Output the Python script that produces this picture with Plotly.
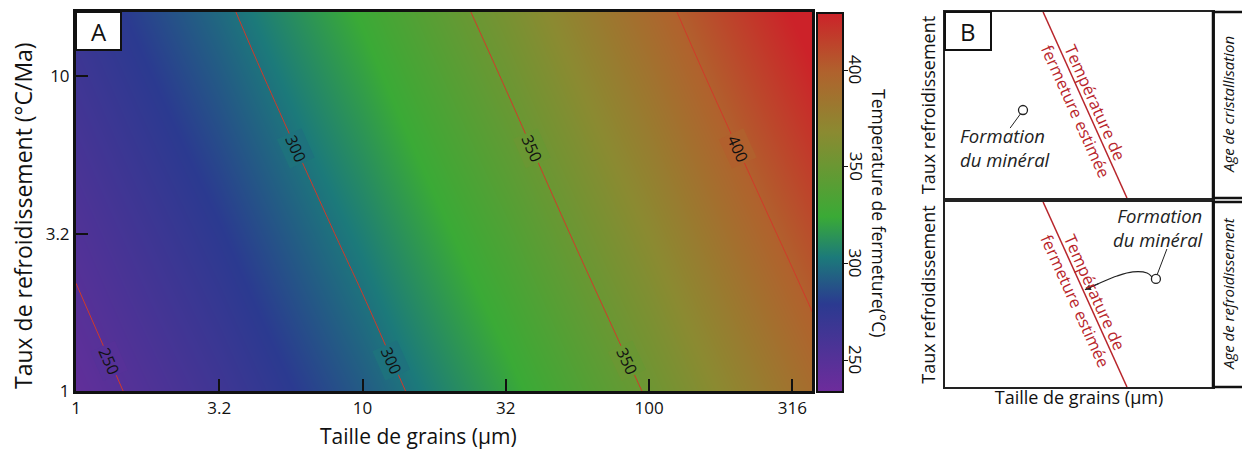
import numpy as np
import plotly.graph_objects as go
from plotly.colors import sample_colorscale

# ---------------- Panel A data ----------------
grain_um = [1, 3.16, 10, 31.6, 100, 316, 400]          # grain size (µm)
rate_c_ma = [1, 3.16, 10, 16]                           # cooling rate (°C/Ma)
temp_c = [                                              # closure temperature (°C)
    [242.4, 265.5, 291.4, 320.1, 351.6, 385.9, 393.2],
    [253.5, 278.0, 305.3, 335.3, 368.2, 403.9, 411.5],
    [265.3, 291.1, 319.8, 351.3, 385.5, 422.6, 430.5],
    [270.2, 296.6, 325.8, 357.8, 392.7, 430.3, 438.3],
]
contour_start, contour_end, contour_step = 250, 400, 50
label_levels = [250, 300, 300, 350, 350, 400]           # contour labels shown
label_rates = [1.25, 5.9, 1.25, 5.9, 1.25, 5.9]         # cooling rate where each label sits
x_tick_vals = [1, 3.16, 10, 31.6, 100, 316]
x_tick_text = ["1", "3.2", "10", "32", "100", "316"]
y_tick_vals = [1, 3.16, 10]
y_tick_text = ["1", "3.2", "10"]
cbar_ticks = [250, 300, 350, 400]
x_max_um = 370
y_max_rate = 16
t_min, t_max = 233.5, 429.5

# ---------------- Panel B schematic data ----------------
closure_x = [0.366, 0.679]
closure_y = [1.0, 0.0]
top_point_x = [0.291]
top_point_y = [0.473]
top_leader_x = [0.284, 0.243]
top_leader_y = [0.457, 0.376]
bot_point_x = [0.787]
bot_point_y = [0.584]
bot_leader_x = [0.791, 0.828]
bot_leader_y = [0.605, 0.746]
bot_path_x = [0.772, 0.754, 0.701, 0.642, 0.578, 0.522]
bot_path_y = [0.595, 0.616, 0.622, 0.600, 0.562, 0.526]

W, H = 1242, 450
def px(v): return v / W
def py(v): return 1 - v / H

FONT = "Open Sans"
RED = "#b8262c"

colorscale = [
    [0.0, "#6e2c9c"],
    [0.232, "#2b3a90"],
    [0.355, "#1c7a7a"],
    [0.462, "#3aaa36"],
    [0.686, "#8b8a31"],
    [0.844, "#b0622d"],
    [1.0, "#cc2229"],
]

lx = np.log10(grain_um)
ly = np.log10(rate_c_ma)
zarr = np.array(temp_c)
A_X0, A_X1, A_Y0, A_Y1 = 76, 812, 12, 391
CB_X0, CB_Y0, CB_Y1, CB_T = 817, 13, 392, 26
x_range = [0, np.log10(x_max_um)]
y_range = [0, np.log10(y_max_rate)]
sx = (A_X1 - A_X0) / (x_range[1] - x_range[0])
sy = (A_Y1 - A_Y0) / (y_range[1] - y_range[0])


def contour_x(level, yv):
    """grain-size (log10) where the temperature field equals level at log10 rate yv"""
    row = np.array([np.interp(yv, ly, zarr[:, j]) for j in range(len(lx))])
    return float(np.interp(level, row, lx))


fig = go.Figure()
fig.add_trace(go.Heatmap(
    x=lx, y=ly, z=temp_c, zsmooth="best", colorscale=colorscale,
    zmin=t_min, zmax=t_max, hoverinfo="skip",
    colorbar=dict(
        x=px(CB_X0), xanchor="left", y=py(CB_Y0), yanchor="top",
        len=(CB_Y1 - CB_Y0) / H, lenmode="fraction", thickness=CB_T,
        xpad=0, ypad=0, outlinewidth=2, outlinecolor="#111",
        tickvals=cbar_ticks, ticks="outside", ticklen=4, tickcolor="#111",
        showticklabels=False,
    ),
    xaxis="x", yaxis="y",
))
fig.add_trace(go.Contour(
    x=lx, y=ly, z=temp_c, showscale=False, hoverinfo="skip",
    contours=dict(start=contour_start, end=contour_end, size=contour_step,
                  coloring="none", showlabels=False),
    line=dict(color="#d03a2a", width=1),
    xaxis="x", yaxis="y",
))

# Panel B traces
for xa, ya in (("x2", "y2"), ("x3", "y3")):
    fig.add_trace(go.Scatter(x=closure_x, y=closure_y, mode="lines",
                             line=dict(color=RED, width=1.5), hoverinfo="skip",
                             xaxis=xa, yaxis=ya, showlegend=False))
fig.add_trace(go.Scatter(x=top_leader_x, y=top_leader_y, mode="lines",
                         line=dict(color="#222", width=1), xaxis="x2", yaxis="y2",
                         showlegend=False, hoverinfo="skip"))
fig.add_trace(go.Scatter(x=top_point_x, y=top_point_y, mode="markers",
                         marker=dict(symbol="circle", size=9, color="white",
                                     line=dict(color="#222", width=1.3)),
                         xaxis="x2", yaxis="y2", showlegend=False, hoverinfo="skip"))
fig.add_trace(go.Scatter(x=bot_leader_x, y=bot_leader_y, mode="lines",
                         line=dict(color="#222", width=1), xaxis="x3", yaxis="y3",
                         showlegend=False, hoverinfo="skip"))
fig.add_trace(go.Scatter(x=bot_path_x, y=bot_path_y, mode="lines",
                         line=dict(color="#222", width=1.2, shape="spline"),
                         xaxis="x3", yaxis="y3", showlegend=False, hoverinfo="skip"))
fig.add_trace(go.Scatter(x=bot_point_x, y=bot_point_y, mode="markers",
                         marker=dict(symbol="circle", size=9, color="white",
                                     line=dict(color="#222", width=1.3)),
                         xaxis="x3", yaxis="y3", showlegend=False, hoverinfo="skip"))

axA_common = dict(showline=True, linewidth=3, linecolor="#111", mirror=True,
                  ticks="inside", ticklen=12, tickwidth=1.5, tickcolor="#111",
                  showgrid=False, zeroline=False, automargin=False,
                  tickfont=dict(family=FONT, size=17, color="#111"))
axB_common = dict(showline=True, linewidth=1.5, linecolor="#222", mirror=True,
                  showticklabels=False, ticks="", showgrid=False, zeroline=False,
                  range=[0, 1], automargin=False, fixedrange=True)

fig.update_layout(
    width=W, height=H, margin=dict(l=0, r=0, t=0, b=0),
    paper_bgcolor="white", plot_bgcolor="white", showlegend=False,
    font=dict(family=FONT, color="#111"),
    xaxis=dict(domain=[px(A_X0), px(A_X1)], range=x_range,
               tickvals=np.log10(x_tick_vals), ticktext=x_tick_text,
               anchor="y", **axA_common),
    yaxis=dict(domain=[py(A_Y1), py(A_Y0)], range=y_range,
               tickvals=np.log10(y_tick_vals), ticktext=y_tick_text,
               anchor="x", **axA_common),
    xaxis2=dict(domain=[px(945), px(1213)], anchor="y2", **axB_common),
    yaxis2=dict(domain=[py(198), py(12)], anchor="x2",
                title=dict(text="Taux refroidissement", font=dict(size=18), standoff=3),
                **axB_common),
    xaxis3=dict(domain=[px(945), px(1213)], anchor="y3",
                title=dict(text="Taille de grains (µm)", font=dict(size=18), standoff=4),
                **axB_common),
    yaxis3=dict(domain=[py(387), py(202)], anchor="x3",
                title=dict(text="Taux refroidissement", font=dict(size=18), standoff=3),
                **axB_common),
)

shapes = [
    dict(type="rect", xref="paper", yref="paper", x0=px(76), x1=px(121), y0=py(50), y1=py(12),
         fillcolor="white", line=dict(color="#111", width=2)),
    dict(type="rect", xref="paper", yref="paper", x0=px(945), x1=px(991), y0=py(50), y1=py(12),
         fillcolor="white", line=dict(color="#111", width=2)),
    dict(type="rect", xref="paper", yref="paper", x0=px(1213), x1=px(1260), y0=py(198), y1=py(12),
         line=dict(color="#111", width=2.5)),
    dict(type="rect", xref="paper", yref="paper", x0=px(1213), x1=px(1260), y0=py(387), y1=py(202),
         line=dict(color="#111", width=2.5)),
]
fig.update_layout(shapes=shapes)

C = dict(xanchor="center", yanchor="middle", showarrow=False)
ann = [
    dict(text="A", xref="paper", yref="paper", x=px(98.5), y=py(31),
         font=dict(size=24, color="#111"), **C),
    dict(text="B", xref="paper", yref="paper", x=px(968), y=py(31),
         font=dict(size=24, color="#111"), **C),
    dict(text="Taille de grains (µm)", xref="paper", yref="paper", x=px(418), y=py(436),
         font=dict(size=21, color="#111"), **C),
    dict(text="Taux de refroidissement (°C/Ma)", xref="paper", yref="paper", x=px(23), y=py(216),
         textangle=-90, font=dict(size=23, color="#111"), **C),
    dict(text="Temperature de fermeture(°C)", xref="paper", yref="paper", x=px(879), y=py(213),
         textangle=90, font=dict(size=17.5, color="#111"), **C),
    dict(text="Age de cristallisation", xref="paper", yref="paper", x=px(1228), y=py(105),
         textangle=-90, font=dict(size=15, color="#111", style="italic"), **C),
    dict(text="Age de refroidissement", xref="paper", yref="paper", x=px(1228), y=py(294),
         textangle=-90, font=dict(size=15, color="#111", style="italic"), **C),
    dict(text="Formation<br>du minéral", xref="x2", yref="y2", x=0.05, y=0.274,
         xanchor="left", yanchor="middle", align="left", showarrow=False,
         font=dict(size=18.5, color="#222", style="italic")),
    dict(text="Formation<br>du minéral", xref="x3", yref="y3", x=0.97, y=0.86,
         xanchor="right", yanchor="middle", align="right", showarrow=False,
         font=dict(size=18.5, color="#222", style="italic")),
    dict(text="", xref="x3", yref="y3", x=bot_path_x[-1], y=bot_path_y[-1],
         ax=bot_path_x[-2], ay=bot_path_y[-2], axref="x3", ayref="y3",
         showarrow=True, arrowhead=2, arrowsize=1, arrowwidth=1.2, arrowcolor="#222"),
]
for xr, yr in (("x2", "y2"), ("x3", "y3")):
    ann.append(dict(text="Température de<br>fermeture estimée", xref=xr, yref=yr,
                    x=0.526, y=0.489, textangle=65.7,
                    font=dict(size=16.5, color=RED), **C))

# colour-bar tick labels (rotated like the reference)
for t in cbar_ticks:
    ypix = CB_Y1 - (t - t_min) / (t_max - t_min) * (CB_Y1 - CB_Y0)
    ann.append(dict(text=str(t), xref="paper", yref="paper", x=px(856), y=py(ypix),
                    textangle=90, font=dict(size=17, color="#111"), **C))

# contour labels placed on the contour lines, oriented along them; the label
# background takes the field colour at that level so the line is broken there
for lev, rate in zip(label_levels, label_rates):
    yv = np.log10(rate)
    xv = contour_x(lev, yv)
    xa_ = contour_x(lev, yv + 0.05)
    xb_ = contour_x(lev, yv - 0.05)
    dxp = (xb_ - xa_) * sx
    dyp = 0.10 * sy
    ang = float(np.degrees(np.arctan2(dyp, dxp)))
    bg = sample_colorscale(colorscale, [(lev - t_min) / (t_max - t_min)])[0]
    ann.append(dict(text=str(lev), xref="x", yref="y", x=xv, y=yv, textangle=ang,
                    bgcolor=bg, borderpad=2,
                    font=dict(size=16, color="#111"), **C))
fig.update_layout(annotations=ann)

fig.write_html("out.html", config={"displayModeBar": False},
               post_script="document.body.style.margin='0px';")
